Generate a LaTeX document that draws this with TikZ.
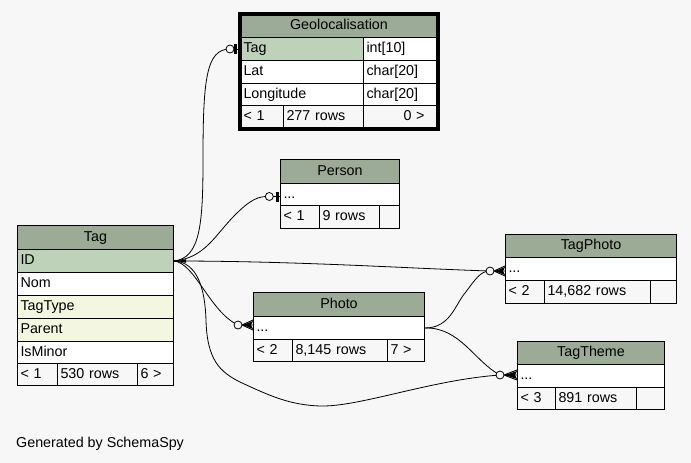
\documentclass[tikz,border=0pt]{standalone}
\usepackage{fontspec}
\setmainfont{Liberation Sans}
\usetikzlibrary{calc}
\definecolor{bgc}{HTML}{F7F7F7}
\definecolor{hdr}{HTML}{9BAB96}
\definecolor{keyc}{HTML}{BED2BA}
\definecolor{fkc}{HTML}{F4F7E0}
\definecolor{footc}{HTML}{F7F7F7}
\tikzset{
  cellbox/.style={draw=black, line width=1pt, inner xsep=3pt, inner ysep=0pt,
    text height=10.5pt, text depth=3pt, font=\fontsize{14.3}{17}\selectfont},
  conn/.style={line width=0.8pt, black},
}
\newcommand{\tcell}[8]{%
  \pgfmathsetmacro\tcW{#4-(#2)}%
  \pgfmathsetmacro\tcH{#5-(#3)}%
  \pgfmathsetmacro\tcT{#4-(#2)-6}%
  \node[cellbox, fill=#6, minimum width=\tcW pt, minimum height=\tcH pt,
    text width=\tcT pt, align=#7, anchor=north west] (#1) at (#2,#3) {#8};}
% circle + crow's foot: #1 circle coordinate, #2 distance to table edge
\newcommand{\crowodot}[2]{%
  \draw[line width=0.9pt] ($(#1)+(4,0)$) -- ($(#1)+(#2,-5)$)
        ($(#1)+(4,0)$) -- ($(#1)+(#2,0)$)
        ($(#1)+(4,0)$) -- ($(#1)+(#2,5)$);
  \fill ($(#1)+(5,0)$) -- ($(#1)+(#2,-4)$) -- ($(#1)+(#2-2,0)$) -- ($(#1)+(#2,4)$) -- cycle;
  \draw[conn, fill=bgc] (#1) circle (4pt);}
% circle + tee: #1 circle coordinate, #2 distance to table edge, #3 bar start
\newcommand{\teeodot}[3]{%
  \draw[conn] ($(#1)+(4,0)$) -- ($(#1)+(#2,0)$);
  \fill ($(#1)+(#3,-5)$) rectangle ($(#1)+(#3+3,5)$);
  \draw[conn, fill=bgc] (#1) circle (4pt);}
\begin{document}
\begin{tikzpicture}[x=1pt,y=-1pt]
\fill[bgc] (0,0) rectangle (691,463);
\useasboundingbox (0,0) rectangle (691,463);

% Geolocalisation
\tcell{geo-h}{240}{14}{437}{37}{hdr}{center}{Geolocalisation}
\tcell{geo-tag}{240}{37}{363}{60}{keyc}{left}{Tag}
\tcell{geo-tagt}{363}{37}{437}{60}{white}{left}{int[10]}
\tcell{geo-lat}{240}{60}{363}{83}{white}{left}{Lat}
\tcell{geo-latt}{363}{60}{437}{83}{white}{left}{char[20]}
\tcell{geo-lon}{240}{83}{363}{105}{white}{left}{Longitude}
\tcell{geo-lont}{363}{83}{437}{105}{white}{left}{char[20]}
\tcell{geo-f1}{240}{105}{283}{128}{footc}{left}{< 1}
\tcell{geo-f2}{283}{105}{363}{128}{footc}{left}{277 rows}
\tcell{geo-f3}{363}{105}{437}{128}{footc}{left}{\hspace*{37pt}0 >}
\draw[line width=3.5pt] (geo-h.north west) rectangle (geo-f3.south east);

% Tag
\tcell{tag-h}{17}{225}{173}{249}{hdr}{center}{Tag}
\tcell{tag-id}{17}{249}{173}{272}{keyc}{left}{ID}
\tcell{tag-nom}{17}{272}{173}{295}{white}{left}{Nom}
\tcell{tag-type}{17}{295}{173}{318}{fkc}{left}{TagType}
\tcell{tag-par}{17}{318}{173}{341}{fkc}{left}{Parent}
\tcell{tag-min}{17}{341}{173}{363}{white}{left}{IsMinor}
\tcell{tag-f1}{17}{363}{57}{385}{footc}{left}{< 1}
\tcell{tag-f2}{57}{363}{137}{385}{footc}{left}{530 rows}
\tcell{tag-f3}{137}{363}{173}{385}{footc}{left}{6 >}

% Person
\tcell{per-h}{280}{159}{399}{183}{hdr}{center}{Person}
\tcell{per-row}{280}{183}{399}{205}{white}{left}{...}
\tcell{per-f1}{280}{205}{319}{228}{footc}{left}{< 1}
\tcell{per-f2}{319}{205}{379}{228}{footc}{left}{9 rows}
\tcell{per-f3}{379}{205}{399}{228}{footc}{left}{}

% Photo
\tcell{ph-h}{253}{292}{424}{316}{hdr}{center}{Photo}
\tcell{ph-row}{253}{316}{424}{339}{white}{left}{...}
\tcell{ph-f1}{253}{339}{292}{361}{footc}{left}{< 2}
\tcell{ph-f2}{292}{339}{387}{361}{footc}{left}{8,145 rows}
\tcell{ph-f3}{387}{339}{424}{361}{footc}{left}{7 >}

% TagPhoto
\tcell{tp-h}{505}{234}{676}{257}{hdr}{center}{TagPhoto}
\tcell{tp-row}{505}{257}{676}{280}{white}{left}{...}
\tcell{tp-f1}{505}{280}{544}{303}{footc}{left}{< 2}
\tcell{tp-f2}{544}{280}{650}{303}{footc}{left}{14,682 rows}
\tcell{tp-f3}{650}{280}{676}{303}{footc}{left}{}

% TagTheme
\tcell{tt-h}{517}{341}{664}{364}{hdr}{center}{TagTheme}
\tcell{tt-row}{517}{364}{664}{387}{white}{left}{...}
\tcell{tt-f1}{517}{387}{555}{409}{footc}{left}{< 3}
\tcell{tt-f2}{555}{387}{636}{409}{footc}{left}{891 rows}
\tcell{tt-f3}{636}{387}{664}{409}{footc}{left}{}

% connector end points
\coordinate (geoC) at ($(geo-tag.west)+(-10,0)$);
\coordinate (perC) at ($(per-row.west)+(-10.7,2)$);
\coordinate (tpC) at ($(tp-row.west)+(-15,2)$);
\coordinate (phC) at ($(ph-row.west)+(-15,-3)$);
\coordinate (ttC) at ($(tt-row.west)+(-17,-1)$);

% connectors
\draw[conn] (tag-id.east) .. controls (200,258) and (203,225) .. (203,160)
  .. controls (203,80) and (206,49) .. (geoC);
\draw[conn] (tag-id.east) .. controls (205,258) and (215,235) .. (235,215)
  .. controls (250,200) and (258,196) .. (perC);
\draw[conn] (tag-id.east) .. controls (300,261) and (420,269) .. (tpC);
\draw[conn] (tag-id.east) .. controls (195,263) and (210,312) .. (phC);
\draw[conn] (tag-id.east) .. controls (198,262) and (205,290) .. (206,320)
  .. controls (207,360) and (220,372) .. (240,382)
  .. controls (270,396) and (290,405) .. (320,406)
  .. controls (360,407) and (430,380) .. (ttC);
\draw[conn] (ph-row.east) .. controls (450,328) and (455,305) .. (465,293)
  .. controls (475,280) and (480,271) .. (tpC);
\draw[conn] (ph-row.east) .. controls (460,327) and (475,362) .. (ttC);

% converging ends at the parent side
\fill ($(tag-id.east)+(3,0)$) -- ($(tag-id.east)+(12,-1.8)$) -- ($(tag-id.east)+(12,1.8)$) -- cycle;

% end markers
\teeodot{geoC}{8}{4}
\teeodot{perC}{10.7}{6.7}
\crowodot{tpC}{15}
\crowodot{phC}{15}
\crowodot{ttC}{17}

\node[anchor=base west, inner sep=0pt, font=\fontsize{14.3}{17}\selectfont] (gen) at (16,447) {Generated by SchemaSpy};
\end{tikzpicture}
\end{document}
